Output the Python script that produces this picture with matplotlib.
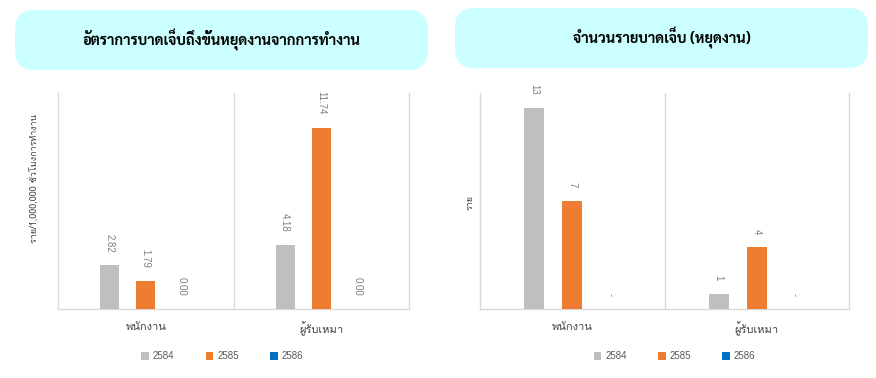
import matplotlib
matplotlib.use("Agg")
import numpy as np
import matplotlib.pyplot as plt
from matplotlib.patches import FancyBboxPatch

plt.rcParams['font.family'] = ['Loma', 'Liberation Sans', 'DejaVu Sans']

categories = ["พนักงาน", "ผู้รับเหมา"]
years = ["2584", "2585", "2586"]
colors = ["#BFBFBF", "#ED7D31", "#0070C0"]

# อัตราการบาดเจ็บ (ราย/1,000,000 ชั่วโมงการทำงาน)
rate_2584 = [2.82, 4.18]
rate_2585 = [1.79, 11.74]
rate_2586 = [0.00, 0.00]

# จำนวนราย
count_2584 = [13, 1]
count_2585 = [7, 4]
count_2586 = [0, 0]

W, H = 876, 378
fig = plt.figure(figsize=(W / 100, H / 100), dpi=100)


def px(x0, y0, x1, y1):
    # pixel box (top-left origin) -> figure fraction rect
    return [x0 / W, 1 - y1 / H, (x1 - x0) / W, (y1 - y0) / H]


def title_box(x0, y0, x1, y1, text):
    r = px(x0, y0, x1, y1)
    box = FancyBboxPatch((r[0], r[1]), r[2], r[3], boxstyle="round,pad=0,rounding_size=0.022",
                         transform=fig.transFigure, facecolor="#CCFFFF", edgecolor="none",
                         mutation_aspect=W / H)
    fig.patches.append(box)
    fig.text(r[0] + r[2] / 2, r[1] + r[3] / 2, text, ha="center", va="center",
             fontsize=10.5, fontweight="bold", family=["Sarabun", "DejaVu Sans"], color="#000000")


def bar_panel(rect, series, fmt, ylabel, ylabel_pos, leg_x):
    ax = fig.add_axes(rect)
    x = np.arange(len(categories))
    off = 0.206
    w = 0.108
    for i, (vals, c) in enumerate(zip(series, colors)):
        xs = x + (i - 1) * off
        bars = ax.bar(xs, vals, width=w, color=c, label=years[i], zorder=3)
        for b, v in zip(bars, vals):
            ax.annotate(fmt(v), (b.get_x() + b.get_width() / 2, b.get_height()),
                        xytext=(0, 9.5), textcoords="offset points", rotation=270,
                        ha="center", va="bottom", fontsize=7, color="#7F7F7F",
                        family=["Liberation Sans"])
    ax.set_xlim(-0.5, len(categories) - 0.5)
    ax.set_ylim(0, 14)
    ax.set_yticks([])
    ax.set_xticks(x)
    ax.set_xticklabels(categories, fontsize=8, color="#404040")
    ax.tick_params(axis="x", length=0, pad=9)
    for s in ax.spines.values():
        s.set_color("#D9D9D9")
        s.set_linewidth(1)
    ax.spines["top"].set_visible(False)
    for b in np.arange(0.5, len(categories) - 0.5, 1):
        ax.axvline(b, color="#D9D9D9", lw=1, zorder=1)
    fig.text(ylabel_pos[0] / W, 1 - ylabel_pos[1] / H, ylabel, rotation=90,
             ha="center", va="center", fontsize=6.5, color="#404040")
    leg = ax.legend(loc="upper center", bbox_to_anchor=(leg_x, -0.155), ncol=3, frameon=False,
                    handlelength=0.8, handleheight=0.8, columnspacing=3.2,
                    handletextpad=0.4, prop={"family": "Liberation Sans", "size": 7})
    for t in leg.get_texts():
        t.set_color("#595959")
    return ax


title_box(15, 10, 428, 70, "อัตราการบาดเจ็บถึงขั้นหยุดงานจากการทำงาน")
title_box(455, 8, 868, 68, "จำนวนรายบาดเจ็บ (หยุดงาน)")

bar_panel(px(58, 93, 409, 309), [rate_2584, rate_2585, rate_2586],
          lambda v: f"{v:.2f}", "ราย/1,000,000 ชั่วโมงการทำงาน", (35, 179), 0.468)
bar_panel(px(480, 93, 849, 309), [count_2584, count_2585, count_2586],
          lambda v: f"{v:d}" if v else "-", "ราย", (470, 202), 0.527)

fig.savefig("out.png", dpi=100)
